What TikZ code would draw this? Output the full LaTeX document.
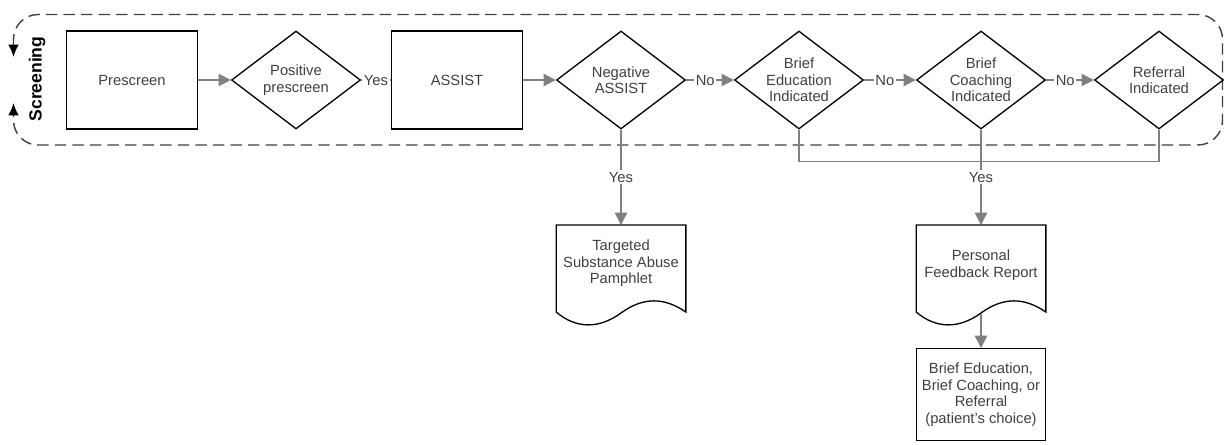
\documentclass[tikz,border=0pt]{standalone}
\usepackage{fontspec}
\setmainfont{Liberation Sans}
\usetikzlibrary{shapes.geometric,arrows.meta,calc}
\definecolor{linegray}{HTML}{808080}
\definecolor{textgray}{HTML}{404040}
\definecolor{framegray}{HTML}{404040}
\tikzset{
    stepbox/.style={shape=rectangle,draw=black,line width=0.75pt,minimum width=2.62cm,minimum height=1.96cm,align=center,text=textgray,inner sep=0pt},
    choice/.style={shape=diamond,draw=black,line width=0.75pt,minimum width=2.58cm,minimum height=1.96cm,aspect=1.32,align=center,text=textgray,inner sep=0pt},
    doc/.style={shape=rectangle,minimum width=2.58cm,minimum height=1.52cm,align=center,text=textgray,inner sep=0pt},
    flow/.style={draw=linegray,line width=0.85pt,-{Triangle[length=7pt,width=7pt]}},
    plain/.style={draw=linegray,line width=0.85pt},
    lbl/.style={fill=white,inner sep=1pt,text=textgray},
    frame/.style={draw=framegray,line width=0.8pt,dash pattern=on 6.5pt off 3.5pt,rounded corners=14pt}
}
% outline of a document shape, wavy bottom 87px below the top edge
\newcommand{\docoutline}[1]{
    \draw[black,line width=0.75pt] (#1.north west) -- (#1.north east) -- ($(#1.north east)+(0,87)$)
        .. controls ($(#1.north east)+(-22,72)$) and ($(#1.north)+(22,72)$) .. ($(#1.north)+(0,88)$)
        .. controls ($(#1.north)+(-22,104)$) and ($(#1.north west)+(20,104)$) .. ($(#1.north west)+(0,87)$) -- cycle;
}

\begin{document}
\begin{tikzpicture}[x=0.02cm,y=-0.02cm,font=\fontsize{8.4pt}{9.4pt}\selectfont]
    \useasboundingbox (0,0) rectangle (1224,444);

    % screening band
    \draw[frame,{Latex[length=7pt,width=6pt,color=black]}-{Latex[length=7pt,width=6pt,color=black]}] (13.5,57) -- (13.5,14.5) -- (1222.5,14.5) -- (1222.5,145) -- (13.5,145) -- (13.5,103);
    \node[rotate=90,font=\fontsize{10pt}{12pt}\bfseries\selectfont] (band) at (37,79) {Screening};

    % top row
    \node[stepbox] (prescreen) at (132,80) {Prescreen};
    \node[choice] (pos) at (296,80) {Positive\\prescreen};
    \node[stepbox] (assist) at (457,80) {ASSIST};
    \node[choice] (neg) at (621,80) {Negative\\ASSIST};
    \node[choice] (edu) at (799,80) {Brief\\Education\\Indicated};
    \node[choice] (coach) at (981,80) {Brief\\Coaching\\Indicated};
    \node[choice] (ref) at (1159,80) {Referral\\Indicated};

    % outputs
    \node[doc,anchor=north] (pamphlet) at (621,225) {Targeted\\Substance Abuse\\Pamphlet};
    \docoutline{pamphlet}
    \node[doc,anchor=north,minimum height=1.6cm] (feedback) at (981,225) {Personal\\Feedback Report};
    \docoutline{feedback}
    \coordinate (feedback out) at ($(feedback.north)+(0,89)$);
    \node[stepbox,anchor=north,minimum width=2.58cm,minimum height=1.84cm] (pick) at (981,348) {Brief Education,\\Brief Coaching, or\\Referral\\(patient's choice)};

    % connectors
    \draw[flow] (prescreen) -- (pos);
    \draw[plain] (pos) -- node[lbl] {Yes} (assist);
    \draw[flow] (assist) -- (neg);
    \draw[flow] (neg) -- node[lbl,pos=0.4] {No} (edu);
    \draw[flow] (edu) -- node[lbl,pos=0.4] {No} (coach);
    \draw[flow] (coach) -- node[lbl,pos=0.4] {No} (ref);
    \draw[flow] (neg.south) -- node[lbl] {Yes} (pamphlet.north);
    \draw[plain] (edu.south) -- ++(0,32) -| (ref.south);
    \draw[flow] (coach.south) -- node[lbl,pos=0.5] {Yes} (feedback.north);
    \draw[flow] (feedback out) -- (pick.north);
\end{tikzpicture}
\end{document}
